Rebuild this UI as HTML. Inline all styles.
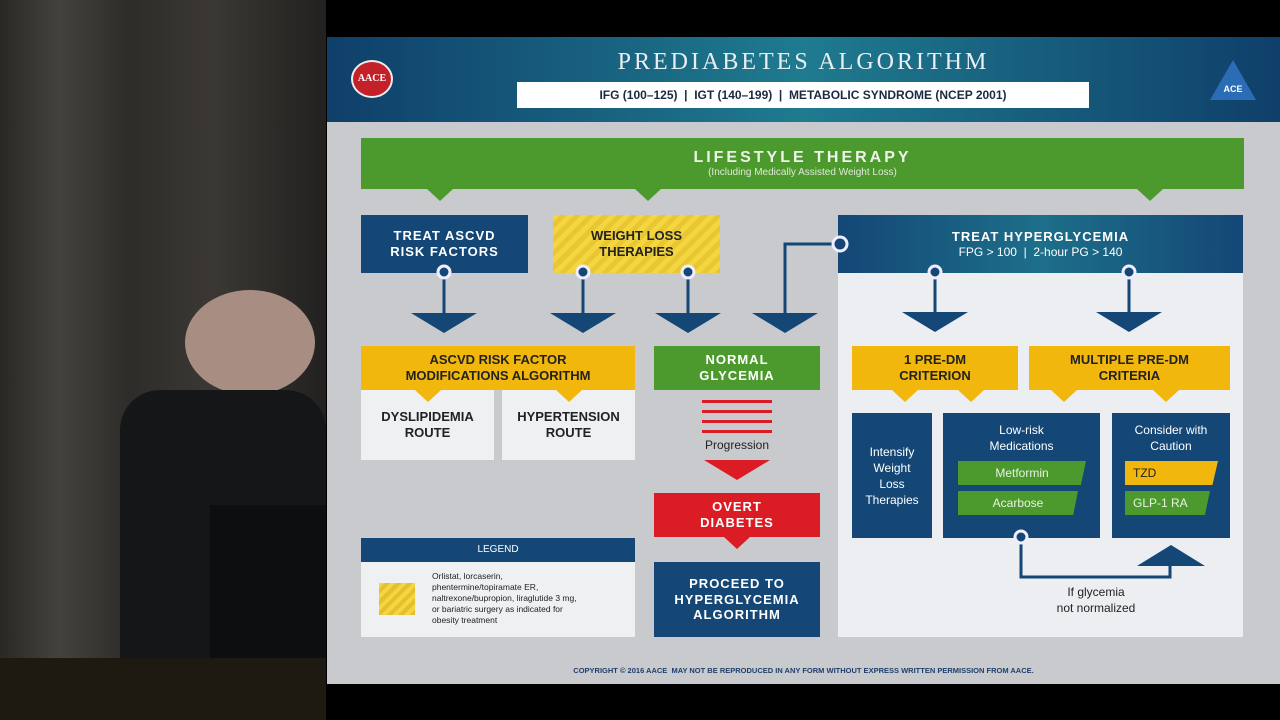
<!DOCTYPE html>
<html><head><meta charset="utf-8"><style>
*{margin:0;padding:0;box-sizing:border-box}
body{width:1280px;height:720px;overflow:hidden;background:#000;position:relative;font-family:"Liberation Sans",sans-serif}
.a{position:absolute}
.c{display:flex;align-items:center;justify-content:center;text-align:center;font-weight:bold;line-height:1.2}
.navy{background:#144776;color:#fff}
.yel{background:#f1b70c;color:#222}
.grn{background:#4c9a2e;color:#fff}
.red{background:#dc1c24;color:#fff}
.wh{background:#eff0f2;color:#222}
.nt{position:absolute;width:0;height:0;border-left:13px solid transparent;border-right:13px solid transparent}
</style></head><body>
<!-- left photo area -->
<div class="a" style="left:0;top:0;width:326px;height:720px;background:linear-gradient(90deg,#2a2825 0%,#44423d 18%,#2e2c29 40%,#3b3834 65%,#22211f 100%)"></div>
<div class="a" style="left:0;top:658px;width:326px;height:62px;background:#1e1a12"></div>
<div class="a" style="left:185px;top:290px;width:130px;height:105px;border-radius:50%;background:#a88e82"></div>
<div class="a" style="left:120px;top:390px;width:206px;height:268px;background:#141618;border-radius:40px 40px 0 0"></div>
<div class="a" style="left:210px;top:505px;width:116px;height:153px;background:#0d0e10"></div>
<!-- slide -->
<div class="a" style="left:327px;top:37px;width:953px;height:647px;background:#c8cace"></div>
<div class="a" style="left:327px;top:37px;width:953px;height:85px;background:linear-gradient(90deg,#0f3f6a,#1f7b8f 50%,#0f3f6a)"></div>
<div class="a c" style="left:327px;top:47px;width:953px;height:30px;color:#e8eef2;font-family:'Liberation Serif',serif;font-weight:normal;font-size:24px;letter-spacing:3px">PREDIABETES ALGORITHM</div>
<div class="a c" style="left:517px;top:82px;width:572px;height:26px;background:#fff;color:#1a2a40;font-size:12px">IFG (100–125)&nbsp; | &nbsp;IGT (140–199)&nbsp; | &nbsp;METABOLIC SYNDROME (NCEP 2001)</div>
<div class="a c" style="left:351px;top:60px;width:42px;height:38px;border-radius:50%;background:#c4202a;border:2px solid #eee;color:#fff;font-size:10px;font-family:'Liberation Serif',serif">AACE</div>
<div class="a" style="left:1210px;top:60px;width:0;height:0;border-left:23px solid transparent;border-right:23px solid transparent;border-bottom:40px solid #2a6db5"></div>
<div class="a c" style="left:1215px;top:82px;width:36px;height:14px;color:#fff;font-size:9px">ACE</div>

<!-- lifestyle -->
<div class="a c grn" style="left:361px;top:138px;width:883px;height:51px;flex-direction:column">
<div style="font-size:16px;letter-spacing:3px;color:#eef5e8">LIFESTYLE THERAPY</div>
<div style="font-size:10px;font-weight:normal;color:#dfe9d8">(Including Medically Assisted Weight Loss)</div></div>
<div class="nt" style="left:427px;top:189px;border-top:12px solid #4c9a2e"></div>
<div class="nt" style="left:635px;top:189px;border-top:12px solid #4c9a2e"></div>
<div class="nt" style="left:1137px;top:189px;border-top:12px solid #4c9a2e"></div>

<div class="a c navy" style="left:361px;top:215px;width:167px;height:58px;font-size:13px;letter-spacing:1px">TREAT ASCVD<br>RISK FACTORS</div>
<div class="a c" style="left:553px;top:215px;width:167px;height:58px;font-size:13px;color:#222;background:repeating-linear-gradient(135deg,#f4d640 0 5px,#e8c733 5px 10px)">WEIGHT LOSS<br>THERAPIES</div>
<div class="a" style="left:838px;top:273px;width:405px;height:364px;background:#eceef2"></div>
<div class="a c navy" style="left:838px;top:215px;width:405px;height:58px;flex-direction:column;background:linear-gradient(90deg,#144776,#1d6f8a 50%,#144776)">
<div style="font-size:13px;letter-spacing:1px">TREAT HYPERGLYCEMIA</div><div style="font-size:12px;font-weight:normal">FPG &gt; 100&nbsp; | &nbsp;2-hour PG &gt; 140</div></div>

<svg class="a" style="left:0;top:0" width="1280" height="720">
<g stroke="#144776" stroke-width="3" fill="none">
<line x1="444" y1="272" x2="444" y2="315"/><line x1="583" y1="272" x2="583" y2="315"/>
<line x1="688" y1="272" x2="688" y2="315"/><polyline points="785,315 785,244 838,244"/>
<line x1="935" y1="272" x2="935" y2="315"/><line x1="1129" y1="272" x2="1129" y2="315"/>
</g>
<g fill="#144776" stroke="#eef" stroke-width="3">
<circle cx="444" cy="272" r="6"/><circle cx="583" cy="272" r="6"/><circle cx="688" cy="272" r="6"/>
<circle cx="840" cy="244" r="7"/><circle cx="935" cy="272" r="6"/><circle cx="1129" cy="272" r="6"/>
</g>
<g fill="#144776">
<polygon points="411,313 477,313 444,333"/><polygon points="550,313 616,313 583,333"/>
<polygon points="655,313 721,313 688,333"/><polygon points="752,313 818,313 785,333"/>
<polygon points="902,312 968,312 935,332"/><polygon points="1096,312 1162,312 1129,332"/>
</g>
<g fill="#dc1c24"><rect x="702" y="400" width="70" height="3"/><rect x="702" y="410" width="70" height="3"/><rect x="702" y="420" width="70" height="3"/><rect x="702" y="430" width="70" height="3"/>
<polygon points="704,460 770,460 737,480"/></g>
</svg>

<div class="a c yel" style="left:361px;top:346px;width:274px;height:44px;font-size:13px">ASCVD RISK FACTOR<br>MODIFICATIONS ALGORITHM</div>
<div class="a c wh" style="left:361px;top:390px;width:133px;height:70px;font-size:13px">DYSLIPIDEMIA<br>ROUTE</div>
<div class="a c wh" style="left:502px;top:390px;width:133px;height:70px;font-size:13px">HYPERTENSION<br>ROUTE</div>
<div class="nt" style="left:415px;top:390px;border-top:12px solid #f1b70c"></div>
<div class="nt" style="left:556px;top:390px;border-top:12px solid #f1b70c"></div>

<div class="a c grn" style="left:654px;top:346px;width:166px;height:44px;font-size:13px;letter-spacing:1px">NORMAL<br>GLYCEMIA</div>
<div class="a c" style="left:654px;top:436px;width:166px;height:18px;font-size:12px;color:#222;font-weight:normal">Progression</div>
<div class="a c red" style="left:654px;top:493px;width:166px;height:44px;font-size:13px;letter-spacing:1px">OVERT<br>DIABETES</div>
<div class="nt" style="left:724px;top:537px;border-top:12px solid #dc1c24"></div>
<div class="a c navy" style="left:654px;top:562px;width:166px;height:75px;font-size:13px;letter-spacing:1px">PROCEED TO<br>HYPERGLYCEMIA<br>ALGORITHM</div>

<div class="a c navy" style="left:361px;top:538px;width:274px;height:24px;font-size:10px;font-weight:normal">LEGEND</div>
<div class="a" style="left:361px;top:562px;width:274px;height:75px;background:#eff0f2"></div>
<div class="a" style="left:379px;top:583px;width:36px;height:32px;background:repeating-linear-gradient(135deg,#f4d640 0 4px,#e4c02e 4px 8px)"></div>
<div class="a" style="left:432px;top:571px;width:200px;font-size:8.5px;line-height:11px;color:#222">Orlistat, lorcaserin,<br>phentermine/topiramate ER,<br>naltrexone/bupropion, liraglutide 3 mg,<br>or bariatric surgery as indicated for<br>obesity treatment</div>

<div class="a c yel" style="left:852px;top:346px;width:166px;height:44px;font-size:13px">1 PRE-DM<br>CRITERION</div>
<div class="a c yel" style="left:1029px;top:346px;width:201px;height:44px;font-size:13px">MULTIPLE PRE-DM<br>CRITERIA</div>
<div class="nt" style="left:892px;top:390px;border-top:12px solid #f1b70c"></div>
<div class="nt" style="left:958px;top:390px;border-top:12px solid #f1b70c"></div>
<div class="nt" style="left:1051px;top:390px;border-top:12px solid #f1b70c"></div>
<div class="nt" style="left:1153px;top:390px;border-top:12px solid #f1b70c"></div>

<div class="a c navy" style="left:852px;top:413px;width:80px;height:125px;font-size:12px;font-weight:normal;line-height:16px">Intensify<br>Weight<br>Loss<br>Therapies</div>
<div class="a navy" style="left:943px;top:413px;width:157px;height:125px"></div>
<div class="a c" style="left:943px;top:422px;width:157px;height:32px;color:#fff;font-size:12px;font-weight:normal;line-height:16px">Low-risk<br>Medications</div>
<div class="a c" style="left:958px;top:461px;width:128px;height:24px;background:#4c9a2e;color:#e8f2e0;font-size:12px;font-weight:normal;clip-path:polygon(0 0,100% 0,96% 100%,0 100%)">Metformin</div>
<div class="a c" style="left:958px;top:491px;width:120px;height:24px;background:#4c9a2e;color:#e8f2e0;font-size:12px;font-weight:normal;clip-path:polygon(0 0,100% 0,96% 100%,0 100%)">Acarbose</div>
<div class="a navy" style="left:1112px;top:413px;width:118px;height:125px"></div>
<div class="a c" style="left:1112px;top:422px;width:118px;height:32px;color:#fff;font-size:12px;font-weight:normal;line-height:16px">Consider with<br>Caution</div>
<div class="a" style="left:1125px;top:461px;width:93px;height:24px;background:#f1b70c;color:#222;font-size:12px;line-height:24px;padding-left:8px;clip-path:polygon(0 0,100% 0,94% 100%,0 100%)">TZD</div>
<div class="a" style="left:1125px;top:491px;width:85px;height:24px;background:#4c9a2e;color:#e8f2e0;font-size:12px;line-height:24px;padding-left:8px;clip-path:polygon(0 0,100% 0,94% 100%,0 100%)">GLP-1 RA</div>
<svg class="a" style="left:0;top:0" width="1280" height="720">
<polyline points="1021,537 1021,577 1170,577 1170,565" stroke="#144776" stroke-width="3" fill="none"/>
<circle cx="1021" cy="537" r="6" fill="#144776" stroke="#eef" stroke-width="3"/>
<polygon points="1137,566 1205,566 1171,545" fill="#144776"/>
</svg>
<div class="a c" style="left:1036px;top:584px;width:120px;height:32px;font-size:12px;font-weight:normal;color:#222;line-height:16px">If glycemia<br>not normalized</div>

<div class="a c" style="left:327px;top:664px;width:953px;height:12px;font-size:7.5px;color:#1f3f6a">COPYRIGHT © 2016 AACE&nbsp; MAY NOT BE REPRODUCED IN ANY FORM WITHOUT EXPRESS WRITTEN PERMISSION FROM AACE.</div>
</body></html>
